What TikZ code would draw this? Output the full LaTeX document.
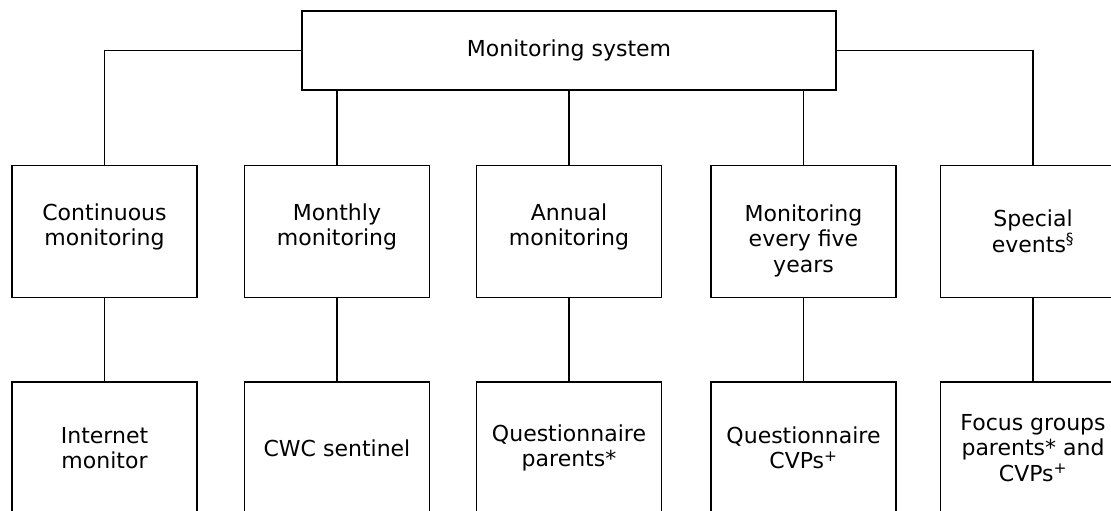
\documentclass[tikz,border=0pt]{standalone}
\usepackage{fontspec}
\setmainfont{DejaVu Sans}
\usepackage{tikz}
\tikzset{box/.style={draw, minimum width=185pt, minimum height=132pt, align=center, inner sep=0pt}}
\tikzset{every node/.style={font=\fontsize{22pt}{25.5pt}\selectfont}}

\begin{document}
\begin{tikzpicture}[x=1pt, y=-1pt, line width=1.5pt]
  \useasboundingbox (0, 0) rectangle (1111, 511);
  \clip (0, 0) rectangle (1111, 511);

  % top
  \node[draw, minimum width=534pt, minimum height=79pt] at (569, 50.5) (sys) {Monitoring system};

  % how often
  \node[box, text depth=14pt] at (104.5, 231.5) (cont) {Continuous\\monitoring};
  \node[box, text depth=14pt] at (337, 231.5) (month) {Monthly\\monitoring};
  \node[box, text depth=14pt] at (569, 231.5) (year) {Annual\\monitoring};
  \node[box, text height=86pt] at (803.5, 231.5) (five) {Monitoring\\every five\\years};
  \node[box] at (1033, 231.5) (event) {Special\\events\textsuperscript{\S}};

  % tools
  \node[box] at (104.5, 448) (inet) {Internet\\monitor};
  \node[box] at (337, 448) (cwc) {CWC sentinel};
  \node[box] at (569, 448) (qpar) {Questionnaire\\parents*};
  \node[box] at (803.5, 448) (qcvp) {Questionnaire\\CVPs\textsuperscript{+}};
  \node[box] at (1033, 448) (focus) {Focus groups\\parents* and\\CVPs\textsuperscript{+}};

  % top down
  \draw (sys.west) -| (cont.north);
  \draw (sys.east) -| (event.north);
  \draw (sys.south -| month.north) -- (month.north);
  \draw (sys.south -| year.north) -- (year.north);
  \draw (sys.south -| five.north) -- (five.north);

  % to the tools
  \draw (cont.south) -- (inet.north);
  \draw (month.south) -- (cwc.north);
  \draw (year.south) -- (qpar.north);
  \draw (five.south) -- (qcvp.north);
  \draw (event.south) -- (focus.north);
\end{tikzpicture}
\end{document}
